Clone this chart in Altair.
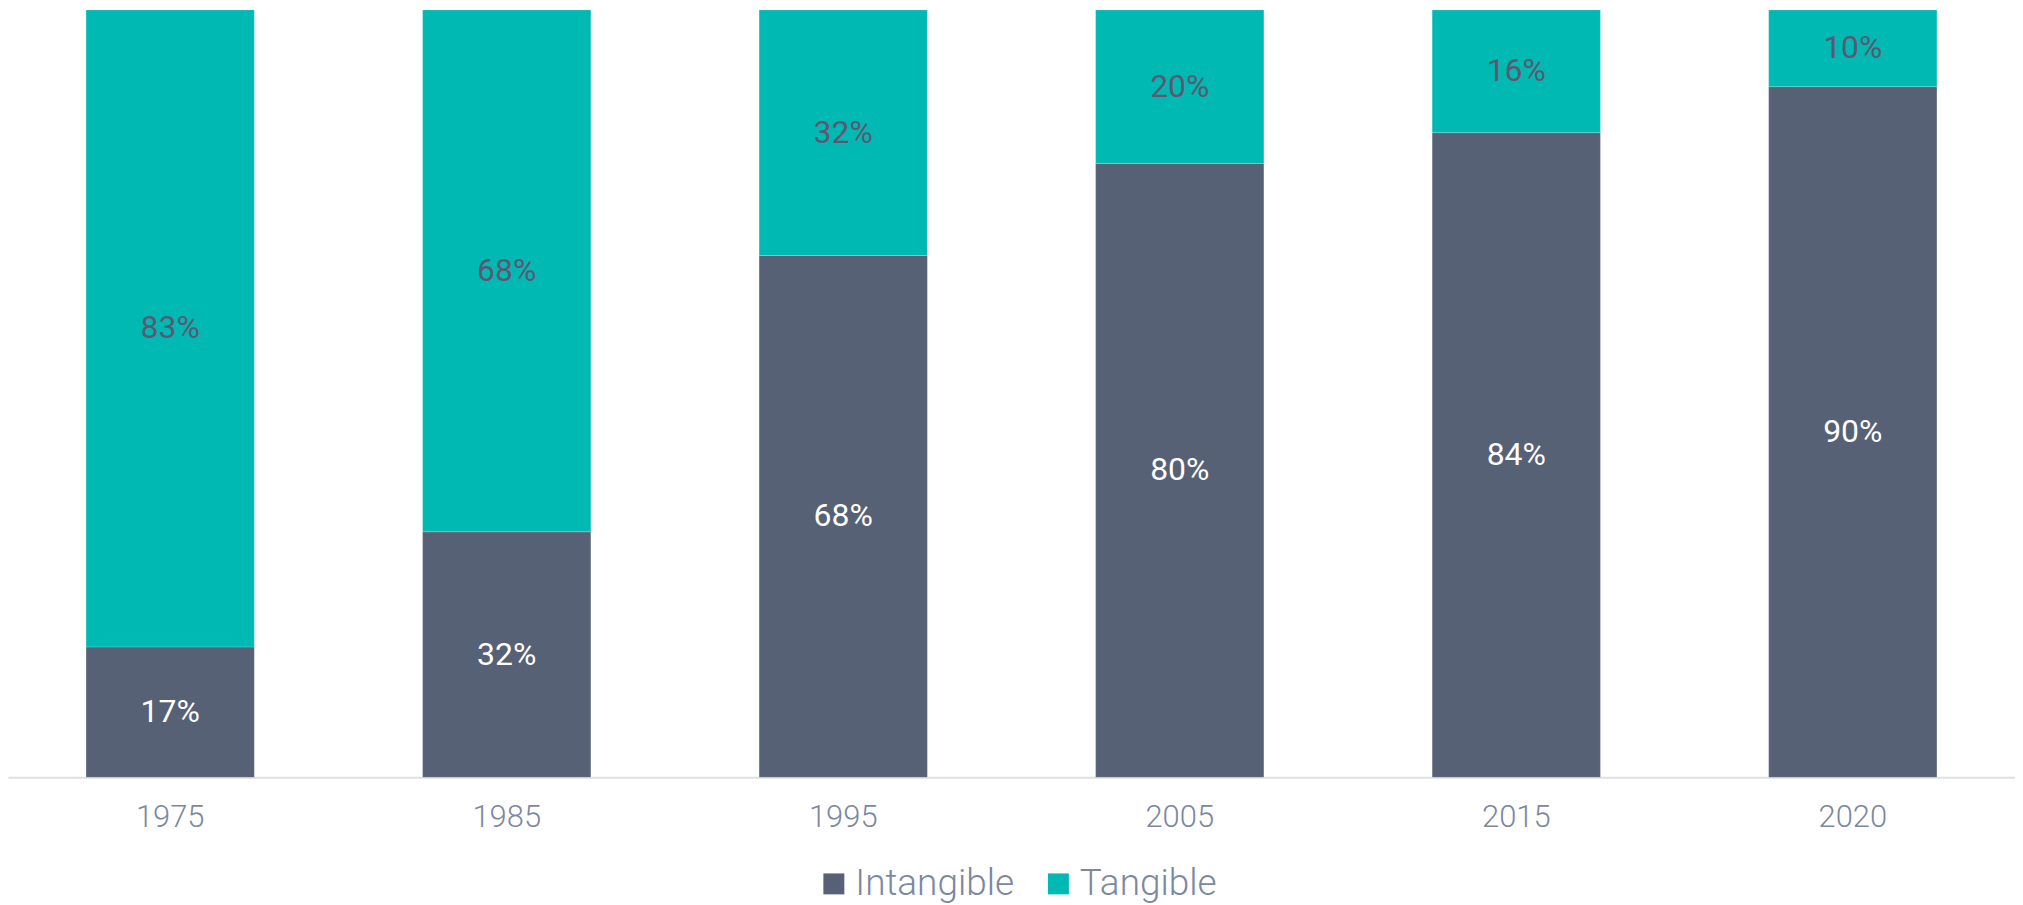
import altair as alt
import pandas as pd

years = ["1975", "1985", "1995", "2005", "2015", "2020"]
intangible = [17, 32, 68, 80, 84, 90]
tangible = [83, 68, 32, 20, 16, 10]
series = ["Intangible", "Tangible"]
bar_colors = ["#566175", "#00b9b3"]

rows = []
for i, yr in enumerate(years):
    rows.append({"year": yr, "type": series[0], "value": intangible[i], "order": 0})
    rows.append({"year": yr, "type": series[1], "value": tangible[i], "order": 1})
df = pd.DataFrame(rows)

axis_color = "#7c87a1"

x_enc = alt.X(
    "year:N",
    sort=years,
    scale=alt.Scale(paddingInner=0.5, paddingOuter=0.232),
    axis=alt.Axis(
        title=None, labelAngle=0, ticks=False, grid=False,
        domainColor="#dfe0e6", domainWidth=2,
        labelFont="Roboto", labelFontWeight=300, labelFontSize=31,
        labelColor=axis_color, labelPadding=25,
    ),
)
y_scale = alt.Scale(domain=[0, 100], nice=False)

base = alt.Chart(df)

bars = base.mark_bar(stroke="#ffffff", strokeWidth=0.5, strokeOpacity=0.4).encode(
    x=x_enc,
    y=alt.Y("value:Q", stack="zero", scale=y_scale, axis=None),
    color=alt.Color(
        "type:N",
        scale=alt.Scale(domain=series, range=bar_colors),
        legend=alt.Legend(
            title=None, orient="none", direction="horizontal",
            legendX=809, legendY=857,
            symbolType="square", symbolSize=441, symbolStrokeWidth=0,
            labelFont="Roboto", labelFontWeight=300, labelFontSize=37,
            labelColor=axis_color, labelOffset=3, columnPadding=25,
        ),
    ),
    order=alt.Order("order:Q"),
)

labels = base.transform_stack(
    stack="value", groupby=["year"], as_=["v0", "v1"],
    sort=[alt.SortField("order", order="ascending")],
).transform_calculate(
    mid="(datum.v0 + datum.v1) / 2",
    label="datum.value + '%'",
).mark_text(font="Roboto", fontSize=32, baseline="middle", align="center").encode(
    x=alt.X("year:N", sort=years),
    y=alt.Y("mid:Q", scale=y_scale),
    text="label:N",
    color=alt.condition(alt.datum.type == "Intangible", alt.value("#ffffff"), alt.value("#5d5872")),
)

chart = alt.layer(bars, labels).properties(
    width=2011, height=769, padding=0, background="#ffffff"
).configure_view(stroke=None)

chart.save("out.html", embed_options={"renderer": "svg", "actions": False})
